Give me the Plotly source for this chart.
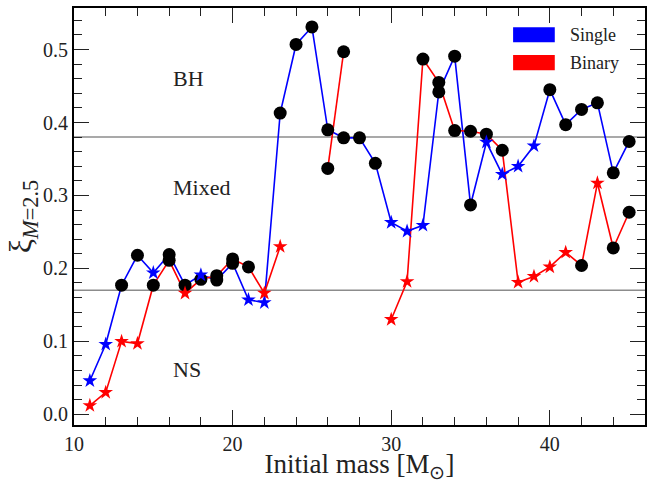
import plotly.graph_objects as go

# ---- data ----
masses = list(range(11, 46))
single = [0.046, 0.096, 0.177, 0.218, 0.194, 0.219, 0.177, 0.191, 0.184, 0.207,
          0.157, 0.153, 0.413, 0.507, 0.531, 0.390, 0.379, 0.379, 0.344, 0.263,
          0.251, 0.259, 0.442, 0.491, 0.287, 0.373, 0.329, 0.340, 0.368, 0.445,
          0.397, 0.418, 0.427, 0.331, 0.374]
single_bh = [0, 0, 1, 1, 0, 1, 1, 0, 1, 1,
             0, 0, 1, 1, 1, 1, 1, 1, 1, 0,
             0, 0, 1, 1, 1, 0, 0, 0, 0, 1,
             1, 1, 1, 1, 1]
binary = [0.012, 0.030, 0.100, 0.097, 0.177, 0.211, 0.166, 0.185, 0.190, 0.213,
          0.202, 0.166, 0.230, None, None, 0.337, 0.497, None, None, 0.130,
          0.182, 0.487, 0.455, 0.389, 0.388, 0.384, 0.362, 0.181, 0.189, 0.202,
          0.222, 0.204, 0.317, 0.228, 0.277]
binary_bh = [0, 0, 0, 0, 1, 1, 0, 1, 1, 1,
             1, 0, 0, 0, 0, 1, 1, 0, 0, 0,
             0, 1, 1, 1, 1, 1, 1, 0, 0, 0,
             0, 1, 0, 1, 1]
thresholds = [0.17, 0.38]
regions = ["BH", "Mixed", "NS"]
region_y = [0.46, 0.3105, 0.061]
series_names = ["Single", "Binary"]
series_colors = ["#0000ff", "#ff0000"]

FONT = "Liberation Serif"

fig = go.Figure()

# threshold lines
for t in thresholds:
    fig.add_hline(y=t, line=dict(color="#8c8c8c", width=1.5), layer="below")

all_vals = [single, binary]
all_bh = [single_bh, binary_bh]

# lines
for vals, col in zip(all_vals, series_colors):
    fig.add_trace(go.Scatter(x=masses, y=vals, mode="lines",
                             line=dict(color=col, width=1.6),
                             connectgaps=False, showlegend=False, hoverinfo="skip"))

# black circles (BH)
for vals, bh in zip(all_vals, all_bh):
    xs = [m for m, v, b in zip(masses, vals, bh) if v is not None and b]
    ys = [v for v, b in zip(vals, bh) if v is not None and b]
    fig.add_trace(go.Scatter(x=xs, y=ys, mode="markers",
                             marker=dict(symbol="circle", size=13, color="black"),
                             showlegend=False, hoverinfo="skip"))

# stars (NS)
for vals, bh, col in zip(all_vals, all_bh, series_colors):
    xs = [m for m, v, b in zip(masses, vals, bh) if v is not None and not b]
    ys = [v for v, b in zip(vals, bh) if v is not None and not b]
    fig.add_trace(go.Scatter(x=xs, y=ys, mode="markers",
                             marker=dict(symbol="star", size=11, color=col,
                                         line=dict(width=0)),
                             showlegend=False, hoverinfo="skip"))

# region labels
for txt, yv in zip(regions, region_y):
    fig.add_annotation(x=16.1, y=yv, text=txt, showarrow=False, xanchor="left",
                       yanchor="middle", font=dict(family=FONT, size=22, color="#222"))

# manual legend
patch_y = [(0.918, 0.954), (0.851, 0.887)]
for (y0, y1), name, col in zip(patch_y, series_names, series_colors):
    fig.add_shape(type="rect", xref="paper", yref="paper", x0=0.769, x1=0.842,
                  y0=y0, y1=y1, fillcolor=col, line=dict(width=0))
    fig.add_annotation(xref="paper", yref="paper", x=0.866, y=(y0 + y1) / 2,
                       text=name, showarrow=False, xanchor="left", yanchor="middle",
                       font=dict(family=FONT, size=18, color="#222"))

axis_common = dict(
    showgrid=False, zeroline=False, showline=True, linecolor="black", linewidth=2,
    mirror="allticks", ticks="inside", ticklen=15, tickwidth=1.2, tickcolor="#222",
    tickfont=dict(family=FONT, size=20, color="#222"), automargin=False,
)

fig.update_xaxes(range=[10, 46], tick0=10, dtick=10,
                 minor=dict(dtick=2, ticks="inside", ticklen=8, tickwidth=1.2, tickcolor="#222"),
                 title=dict(text="Initial mass [M<sub>⊙</sub>]",
                            font=dict(family=FONT, size=27, color="#222"), standoff=7),
                 **axis_common)
fig.update_yaxes(range=[-0.0147, 0.557], tick0=0, dtick=0.1, tickformat=".1f",
                 minor=dict(dtick=0.02, ticks="inside", ticklen=8, tickwidth=1.2, tickcolor="#222"),
                 title=dict(text="ξ<sub><i>M</i>=2.5</sub>",
                            font=dict(family=FONT, size=32, color="#222"), standoff=0),
                 **axis_common)

fig.update_layout(
    width=657, height=483,
    margin=dict(l=74, r=12, t=8, b=58),
    paper_bgcolor="white", plot_bgcolor="white",
    showlegend=False,
)

fig.write_html("out.html")
